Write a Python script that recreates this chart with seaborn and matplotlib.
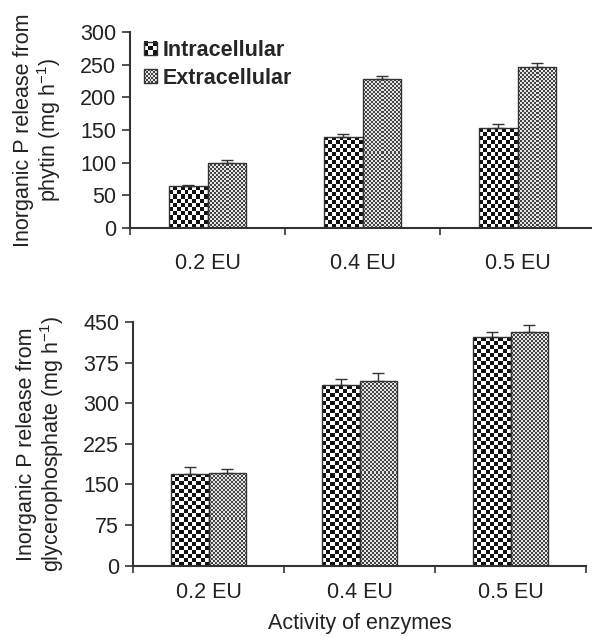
import numpy as np
import pandas as pd
import matplotlib
matplotlib.use("Agg")
import matplotlib.pyplot as plt
import seaborn as sns
from matplotlib.legend_handler import HandlerBase
from matplotlib.patches import Rectangle
from matplotlib.image import BboxImage
from matplotlib.transforms import Bbox, TransformedBbox

# ---- data -------------------------------------------------------------
activity = ["0.2 EU", "0.4 EU", "0.5 EU"]
fractions = ["Intracellular", "Extracellular"]

phytin_intra = [64, 140, 153]
phytin_intra_err = [2.5, 3.5, 6]
phytin_extra = [100, 228, 247]
phytin_extra_err = [4.5, 4.5, 5]

glycero_intra = [170, 333, 422]
glycero_intra_err = [12, 12, 9]
glycero_extra = [171, 341, 431]
glycero_extra_err = [8, 15, 13]

phytin_ticks = [0, 50, 100, 150, 200, 250, 300]
glycero_ticks = [0, 75, 150, 225, 300, 375, 450]

# ---- style ------------------------------------------------------------
sns.set_style("ticks")
plt.rcParams["font.family"] = ["Liberation Sans", "DejaVu Sans"]
plt.rcParams["mathtext.fontset"] = "custom"
plt.rcParams["mathtext.rm"] = "Liberation Sans"
plt.rcParams["mathtext.it"] = "Liberation Sans:italic"
plt.rcParams["mathtext.bf"] = "Liberation Sans:bold"

FS = 15.5
AXC = "#333333"
# checker textures: (dark colour, light colour, cell size in px)
TEXTURES = {
    "Intracellular": ("#111111", "#ffffff", 4),
    "Extracellular": ("#444444", "#e6e6e6", 2),
}


def checker(nx, ny, dark, light):
    d = np.array(matplotlib.colors.to_rgb(dark))
    l = np.array(matplotlib.colors.to_rgb(light))
    mask = np.add.outer(np.arange(ny), np.arange(nx)) % 2
    return np.where(mask[..., None] == 0, d, l)


def long_table(intra, extra):
    return pd.DataFrame({
        "activity": activity * 2,
        "fraction": [fractions[0]] * 3 + [fractions[1]] * 3,
        "value": list(intra) + list(extra),
    })


def panel(ax, intra, intra_err, extra, extra_err, ticks, ylabel, xpad):
    df = long_table(intra, extra)
    sns.barplot(data=df, x="activity", y="value", hue="fraction",
                hue_order=fractions, order=activity, width=0.5,
                errorbar=None, ax=ax, legend=False,
                palette=["#ffffff", "#ffffff"], edgecolor=AXC, linewidth=1.0)
    ax.set_xlim(-0.5, 2.5)
    ax.set_ylim(ticks[0], ticks[-1])

    errs = {fractions[0]: intra_err, fractions[1]: extra_err}
    for cont, name in zip(ax.containers, fractions):
        dark, light, cell = TEXTURES[name]
        xs, tops = [], []
        for bar in cont:
            bar.set_facecolor("none")
            bar.set_zorder(3)
            x0, w, h = bar.get_x(), bar.get_width(), bar.get_height()
            ext = bar.get_window_extent()
            nx = max(1, int(round(ext.width / cell)))
            ny = max(1, int(round(ext.height / cell)))
            im = ax.imshow(checker(nx, ny, dark, light),
                           extent=[x0, x0 + w, 0, h], origin="lower",
                           interpolation="nearest", aspect="auto", zorder=2)
            im.set_clip_path(bar)
            xs.append(x0 + w / 2)
            tops.append(h)
        e = errs[name]
        ax.errorbar(xs, tops, yerr=[np.zeros(len(e)), e], fmt="none",
                    ecolor=AXC, elinewidth=1.0, capsize=4, capthick=1.0,
                    zorder=4)
    ax.set_xlim(-0.5, 2.5)
    ax.set_ylim(ticks[0], ticks[-1])

    sns.despine(ax=ax)
    for s in ("left", "bottom"):
        ax.spines[s].set_color(AXC)
        ax.spines[s].set_linewidth(1.5)
    ax.set_yticks(ticks)
    ax.set_xticks(range(len(activity)))
    ax.set_xticklabels(activity)
    ax.set_xticks([-0.5, 0.5, 1.5, 2.5], minor=True)
    ax.tick_params(axis="x", which="major", length=0, pad=xpad,
                   labelsize=FS, labelcolor="#222222")
    ax.tick_params(axis="x", which="minor", length=5, width=1.2,
                   color=AXC, direction="out")
    ax.tick_params(axis="y", length=6, width=1.2, color=AXC,
                   labelsize=FS, labelcolor="#222222", pad=4)
    ax.set_xlabel("")
    ax.set_ylabel(ylabel, fontsize=FS, color="#222222", labelpad=12,
                  linespacing=1.05)


class CheckerHandler(HandlerBase):
    def __init__(self, name):
        super().__init__()
        self.name = name

    def create_artists(self, legend, orig_handle, xdescent, ydescent,
                       width, height, fontsize, trans):
        dark, light, cell = TEXTURES[self.name]
        n = 3 if cell > 2 else 7
        box = TransformedBbox(Bbox.from_bounds(-xdescent, -ydescent,
                                               width, height), trans)
        img = BboxImage(box, interpolation="nearest")
        img.set_data(checker(n, n, dark, light))
        rect = Rectangle((-xdescent, -ydescent), width, height,
                         facecolor="none", edgecolor=AXC, linewidth=1.0,
                         transform=trans)
        return [img, rect]


fig = plt.figure(figsize=(5.92, 6.38), dpi=100)
ax1 = fig.add_axes([130 / 592, 1 - 228 / 638, 465 / 592, 196 / 638])
ax2 = fig.add_axes([133 / 592, 1 - 565.7 / 638, 453 / 592, 243.7 / 638])

panel(ax1, phytin_intra, phytin_intra_err, phytin_extra, phytin_extra_err,
      phytin_ticks, "Inorganic P release from\nphytin (mg h$^{-1}$)", 18)
panel(ax2, glycero_intra, glycero_intra_err, glycero_extra,
      glycero_extra_err, glycero_ticks,
      "Inorganic P release from\nglycerophosphate (mg h$^{-1}$)", 12)
ax2.set_xlabel("Activity of enzymes", fontsize=FS, color="#222222",
               labelpad=7)

handles = [Rectangle((0, 0), 1, 1) for _ in fractions]
ax1.legend(handles, fractions, loc="upper left",
           bbox_to_anchor=(129 / 592, 1 - 25 / 638),
           bbox_transform=fig.transFigure, frameon=False,
           prop={"size": FS, "weight": "bold"},
           handler_map={h: CheckerHandler(n) for h, n in zip(handles, fractions)},
           handlelength=0.6, handleheight=0.6, handletextpad=0.25,
           labelspacing=0.3, borderpad=0.2)

fig.savefig("out.png", dpi=100)
